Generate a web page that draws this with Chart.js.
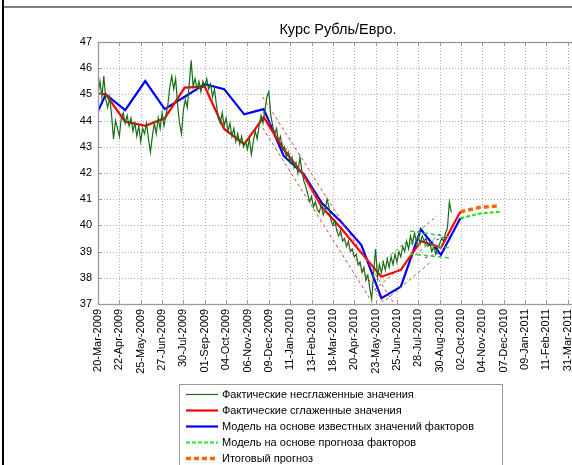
<!DOCTYPE html>
<html><head><meta charset="utf-8">
<script src="https://cdn.jsdelivr.net/npm/chart.js@4"></script>
<style>
html,body{margin:0;padding:0;background:#fff;overflow:hidden;width:572px;height:465px;}
#wrap{position:relative;width:600px;height:465px;}
canvas{display:block;}
</style></head><body>
<div id="wrap"><canvas id="c" width="600" height="465"></canvas></div>
<script>
// ---- Data ----
const titleText = 'Курс Рубль/Евро.';
const tickLabels = ['20-Mar-2009','22-Apr-2009','25-May-2009','27-Jun-2009','30-Jul-2009','01-Sep-2009','04-Oct-2009','06-Nov-2009','09-Dec-2009','11-Jan-2010','13-Feb-2010','18-Mar-2010','20-Apr-2010','23-May-2010','25-Jun-2010','28-Jul-2010','30-Aug-2010','02-Oct-2010','04-Nov-2010','07-Dec-2010','09-Jan-2011','11-Feb-2011','31-Mar-2011'];
// tick positions, days since 20-Mar-2009
const tickDays = [0,33,66,99,132,165,198,231,264,297,330,363,396,429,462,495,528,561,594,627,660,693,726];
const yTicks = [37,38,39,40,41,42,43,44,45,46,47];

// monthly points (1st of month, days since 20-Mar-2009), Mar-2009 .. Oct-2010
const monthDays = [-19,12,42,73,103,134,165,195,226,256,287,318,346,377,407,438,468,499,530,560];
const smoothedValues = [45.08,45.0,43.96,43.8,44.09,45.26,45.3,43.68,43.1,44.13,42.9,41.9,40.7,39.85,38.95,38.04,38.3,39.4,39.15,40.52];
const modelKnownValues = [43.35,45.0,44.4,45.51,44.44,44.91,45.39,45.2,44.24,44.44,42.65,41.95,40.85,40.1,39.25,37.22,37.66,39.85,38.88,40.27];

// forecast (Oct-2010 .. Dec-2010)
const forecastDays = [560,591,621];
const modelForecastValues = [40.27,40.46,40.52];
const finalForecastValues = [40.52,40.69,40.75];

// raw (unsmoothed) values, one every 3 days from 20-Mar-2009
const rawStepDays = 3;
const rawValues = [
45.0,45.5,44.9,45.7,44.8,44.5,44.9,44.2,43.3,44.0,
43.7,43.4,44.1,44.3,43.9,44.2,43.8,44.1,43.6,43.9,
43.4,43.8,43.2,43.7,43.5,43.9,43.3,42.8,43.4,43.9,
43.5,44.1,43.7,44.3,43.8,44.2,44.6,45.3,45.7,45.2,
45.6,44.6,43.9,43.5,44.4,44.8,44.5,45.4,46.3,45.3,
45.6,45.2,45.5,45.1,45.5,45.3,45.6,45.2,45.4,44.9,
45.2,44.6,44.1,43.9,44.3,43.8,44.1,43.6,43.9,43.4,
43.7,43.2,43.5,43.1,43.4,43.0,43.2,42.9,43.3,42.7,
43.2,43.6,43.3,43.8,44.2,43.9,44.4,44.9,45.1,44.2,
43.8,43.5,43.7,43.2,43.4,42.9,43.0,42.6,42.8,42.4,
42.6,42.2,42.4,42.0,42.6,42.1,41.7,41.5,41.2,40.9,
41.1,40.7,40.9,40.6,40.5,40.8,40.4,40.6,41.0,40.7,
40.2,40.0,40.2,39.8,39.6,39.8,39.4,39.5,39.2,39.4,
39.0,39.1,38.8,38.9,38.5,38.6,38.2,38.4,37.9,38.1,
37.6,37.2,38.2,39.1,38.0,38.5,38.2,38.6,38.3,38.7,
38.4,38.8,38.5,38.9,38.6,39.0,38.8,39.2,39.0,39.4,
39.1,39.6,39.3,39.7,39.4,39.6,39.3,39.6,39.4,39.5,
39.2,39.3,39.0,39.2,38.9,39.1,39.3,39.5,39.4,39.7,
39.9,40.9,40.5
];

// trend channel segments: [startDay, startValue, endDay, endValue]
const downChannel = [[254.6,44.90,455.9,37.08],[254.6,44.33,440.4,37.08],[254.6,43.72,423.4,37.08]];
const upChannel = [[431.1,38.43,524.0,40.37],[426.5,37.53,528.6,39.67],[445.0,37.16,513.2,38.58]];
const flatChannel = [[482.2,39.79,543.5,39.56],[482.2,39.33,543.5,39.14],[482.2,38.91,543.5,38.76]];
const blueChannel = [[505.4,39.29,539.5,39.60],[505.4,38.76,539.5,39.06]];

const legendLabels = ['Фактические несглаженные значения','Фактические сглаженные значения','Модель на основе известных значений факторов','Модель на основе прогноза факторов','Итоговый прогноз'];

// ---- Build datasets ----
const pts = (xs, ys) => xs.map((x,i)=>({x:x,y:ys[i]}));
const rawPts = rawValues.map((v,i)=>({x:i*rawStepDays,y:v}));
const base = {pointRadius:0,pointHoverRadius:0,tension:0,fill:false};
const datasets = [];
function seg(s, color, w, dash){
  datasets.push(Object.assign({},base,{label:'',data:[{x:s[0],y:s[1]},{x:s[2],y:s[3]}],borderColor:color,borderWidth:w,borderDash:dash}));
}
downChannel.forEach(s=>seg(s,'#e04040',1,[3,3]));
upChannel.forEach(s=>seg(s,'#77772a',1,[3,3]));
flatChannel.forEach(s=>seg(s,'#30d030',1.5,[4,3]));
blueChannel.forEach(s=>seg(s,'#3a3aff',1,[3,3]));
const mainSets = [
  {label:legendLabels[0],data:rawPts,borderColor:'#176d17',borderWidth:1.2},
  {label:legendLabels[1],data:pts(monthDays,smoothedValues),borderColor:'#ff0000',borderWidth:2.2},
  {label:legendLabels[2],data:pts(monthDays,modelKnownValues),borderColor:'#0000ff',borderWidth:2.2},
  {label:legendLabels[3],data:pts(forecastDays,modelForecastValues),borderColor:'#22e822',borderWidth:2.2,borderDash:[4,2]},
  {label:legendLabels[4],data:pts(forecastDays,finalForecastValues),borderColor:'#ff6a00',borderWidth:3.5,borderDash:[5,3]}
];
mainSets.forEach(d=>datasets.push(Object.assign({},base,d)));

const FONT = '"Liberation Sans", Arial, sans-serif';

const decor = {
  id:'decor',
  beforeDraw(chart){
    const ctx = chart.ctx;
    ctx.save();
    ctx.fillStyle = '#fff';
    ctx.fillRect(0,0,chart.width,chart.height);
    const a = chart.chartArea;
    const xs = chart.scales.x, ys = chart.scales.y;
    ctx.strokeStyle = '#b4b4b4';
    ctx.lineWidth = 1;
    ctx.setLineDash([1,2]);
    tickDays.forEach(d=>{
      const px = Math.round(xs.getPixelForValue(d))+0.5;
      ctx.beginPath(); ctx.moveTo(px,a.top); ctx.lineTo(px,a.bottom); ctx.stroke();
    });
    yTicks.forEach(v=>{
      const py = Math.round(ys.getPixelForValue(v))+0.5;
      ctx.beginPath(); ctx.moveTo(a.left,py); ctx.lineTo(a.right,py); ctx.stroke();
    });
    ctx.setLineDash([]);
    ctx.restore();
  },
  afterDraw(chart){
    const ctx = chart.ctx;
    const a = chart.chartArea;
    const xs = chart.scales.x, ys = chart.scales.y;
    ctx.save();
    ctx.strokeStyle = '#9a9a9a';
    ctx.lineWidth = 1.3;
    ctx.strokeRect(Math.round(a.left)+0.5, Math.round(a.top)+0.5, a.right-a.left, a.bottom-a.top);
    ctx.lineWidth = 1;
    tickDays.forEach(d=>{
      const px = Math.round(xs.getPixelForValue(d))+0.5;
      ctx.beginPath(); ctx.moveTo(px,a.bottom); ctx.lineTo(px,a.bottom-4); ctx.stroke();
      ctx.beginPath(); ctx.moveTo(px,a.top); ctx.lineTo(px,a.top+4); ctx.stroke();
    });
    yTicks.forEach(v=>{
      const py = Math.round(ys.getPixelForValue(v))+0.5;
      ctx.beginPath(); ctx.moveTo(a.left,py); ctx.lineTo(a.left+4,py); ctx.stroke();
    });
    ctx.fillStyle = '#000';
    ctx.font = '14.5px ' + FONT;
    ctx.textAlign = 'center';
    ctx.textBaseline = 'alphabetic';
    ctx.fillText(titleText, 338, 34);
    ctx.fillStyle = '#000';
    ctx.fillRect(2,0,2,chart.height);
    ctx.fillStyle = '#808080';
    ctx.fillRect(4,6,chart.width,2);
    ctx.fillStyle = '#fff';
    ctx.fillRect(179,384,323,90);
    ctx.strokeStyle = '#9a9a9a';
    ctx.lineWidth = 1;
    ctx.strokeRect(179.5,384.5,323,90);
    ctx.font = '11px ' + FONT;
    ctx.textAlign = 'left';
    ctx.textBaseline = 'middle';
    const rowY = [394.5,410.5,426.5,442.5,458.5];
    mainSets.forEach((d,i)=>{
      const y = rowY[i];
      ctx.strokeStyle = d.borderColor;
      ctx.lineWidth = d.borderWidth;
      ctx.setLineDash(d.borderDash || []);
      ctx.beginPath(); ctx.moveTo(186,y); ctx.lineTo(218,y); ctx.stroke();
      ctx.setLineDash([]);
      ctx.fillStyle = '#000';
      ctx.fillText(d.label, 222, y+0.5);
    });
    ctx.restore();
  }
};

new Chart(document.getElementById('c'), {
  type:'line',
  data:{datasets:datasets},
  options:{
    responsive:false,
    animation:false,
    events:[],
    layout:{padding:{left:0,top:42,right:18,bottom:0}},
    plugins:{legend:{display:false},title:{display:false},tooltip:{enabled:false}},
    scales:{
      x:{
        type:'linear', min:0, max:748,
        afterBuildTicks(scale){ scale.ticks = tickDays.map(v=>({value:v})); },
        afterFit(scale){ scale.height = 161; },
        grid:{display:false,drawTicks:false},
        border:{display:false},
        ticks:{autoSkip:false,minRotation:90,maxRotation:90,padding:5,color:'#000',
          font:{size:11,family:FONT},
          callback:(v)=>{ const i = tickDays.indexOf(v); return i>=0 ? tickLabels[i] : ''; }}
      },
      y:{
        type:'linear', min:37, max:47,
        afterBuildTicks(scale){ scale.ticks = yTicks.map(v=>({value:v})); },
        afterFit(scale){ scale.width = 98; },
        grid:{display:false,drawTicks:false},
        border:{display:false},
        ticks:{padding:6,color:'#000',font:{size:11,family:FONT}}
      }
    }
  },
  plugins:[decor]
});
</script>
</body></html>
